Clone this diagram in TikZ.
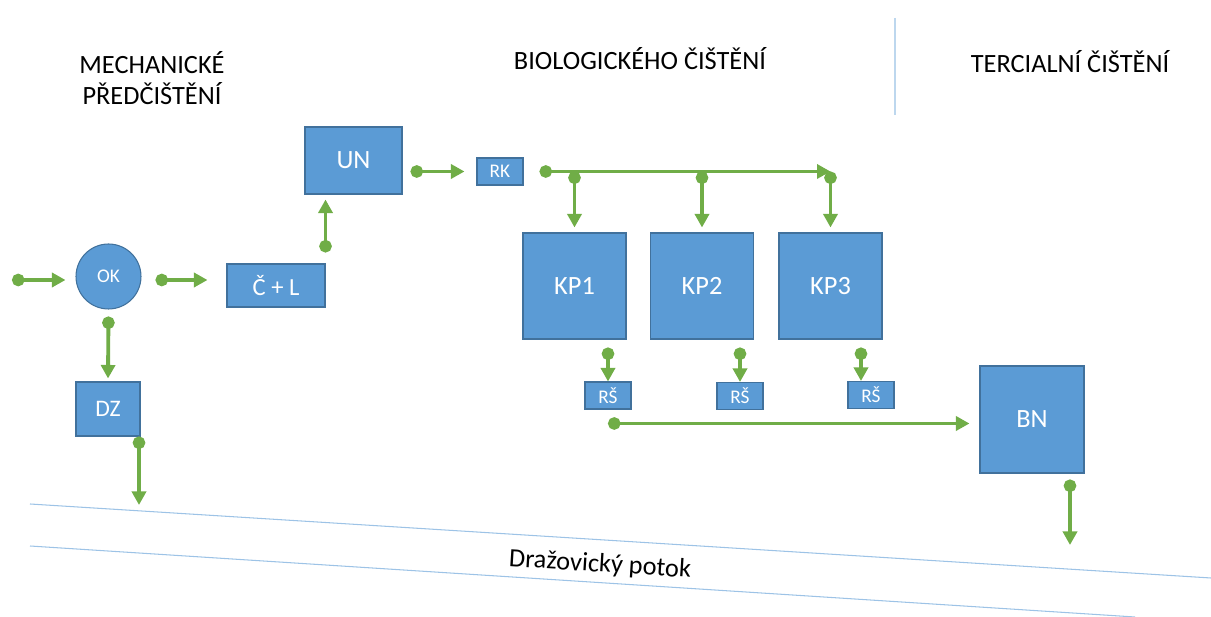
\documentclass[tikz,border=0pt]{standalone}
\usepackage{fontspec}
\setmainfont{Carlito}
\usetikzlibrary{arrows.meta,calc}

\definecolor{boxblue}{HTML}{5B9BD5}
\definecolor{boxedge}{HTML}{41719C}
\definecolor{flowgreen}{HTML}{70AD47}
\definecolor{riverblue}{HTML}{9DC3E6}
\definecolor{lineblue}{HTML}{BDD7EE}

\begin{document}
\begin{tikzpicture}
[x=0.02cm, y=-0.02cm]
\tikzset{
	unit/.style = {rectangle, draw=boxedge, fill=boxblue, text=white, inner sep=0, line width=0.6pt},
	big/.style = {unit, minimum width=2.06cm, minimum height=2.12cm, font=\fontsize{15}{18}\selectfont},
	small/.style = {unit, minimum width=0.92cm, minimum height=0.54cm, font=\fontsize{11}{13}\selectfont},
	flow/.style = {draw=flowgreen, line width=2.2pt, {Circle[length=0.25cm]}-{Triangle[length=0.27cm, width=0.28cm]}},
	phase/.style = {align=center, font=\fontsize{15}{18}\selectfont},
	river/.style = {draw=riverblue, line width=0.6pt}
}
\useasboundingbox (0,0) rectangle (1211,617);

% headings
\node (mech) [phase] at (152,78) {MECHANICKÉ\\PŘEDČIŠTĚNÍ};
\node (bio) [phase] at (640,59) {BIOLOGICKÉHO ČIŠTĚNÍ};
\node (terc) [phase] at (1070,62) {TERCIALNÍ ČIŠTĚNÍ};
\draw [draw=lineblue, line width=1pt] (895,18) -- (895,115);

% units
\node (ok) [unit, circle, minimum size=1.3cm, font=\fontsize{11}{13}\selectfont] at (108.5,276.5) {OK};
\node (cl) [unit, minimum width=1.96cm, minimum height=0.86cm, font=\fontsize{14}{17}\selectfont] at (276,285.5) {Č + L};
\node (un) [unit, minimum width=1.94cm, minimum height=1.34cm, font=\fontsize{15}{18}\selectfont] at (353.5,160.5) {UN};
\node (rk) [small] at (500,171.5) {RK};
\node (kp1) [big] at (574.5,286) {KP1};
\node (kp2) [big] at (702,286) {KP2};
\node (kp3) [big] at (830.5,286) {KP3};
\node (rs1) [small] at (608,395.5) {RŠ};
\node (rs2) [small] at (740,396) {RŠ};
\node (rs3) [small] at (871,395) {RŠ};
\node (bn) [big, minimum width=2.08cm, minimum height=2.14cm] at (1032,419.5) {BN};
\node (dz) [unit, minimum width=1.28cm, minimum height=1.08cm, font=\fontsize{13.5}{16}\selectfont] at (108,409) {DZ};

% river
\draw [river] (30,504) -- (1211,578);
\draw [river] (30,546) -- (1135,617);
\node (potok) [rotate=-3.6, font=\fontsize{15}{18}\selectfont] at (600,565) {Dražovický potok};

\coordinate (in) at (12,280);
\coordinate (out1) at (139,505);
\coordinate (out2) at (1070,545);

% flows
\draw [flow, shorten >=0.2cm] (in) -- (in -| ok.west);
\draw [flow, shorten <=0.28cm, shorten >=0.38cm] (ok.east |- in) -- (cl.west |- in);
\draw [flow, shorten <=0.14cm, shorten >=0.06cm] (ok.south) -- (dz.north);
\draw [flow] (out1 |- dz.south) -- (out1);
\draw [flow, shorten <=0.22cm, shorten >=0.1cm] (cl.north east) -- (cl.north east |- un.south);
\draw [flow, shorten <=0.16cm, shorten >=0.24cm] (un.east |- rk.west) -- (rk.west);
\draw [flow, shorten <=0.32cm] (rk.east) -- (rk.east -| kp3.north);
\foreach \k in {1,2,3}
	\draw [flow, shorten >=0.1cm] (kp\k.north |- rk.east) -- (kp\k.north);
\draw [flow, shorten <=0.16cm] (rs1.north |- kp1.south) -- (rs1.north);
\draw [flow, shorten <=0.16cm] (rs2.north |- kp2.south) -- (rs2.north);
\draw [flow, shorten <=0.16cm] ($(rs3.north |- kp3.south)+(-10,0)$) -- ($(rs3.north)+(-10,0)$);
\draw [flow, shorten >=0.2cm] ($(rs1.south |- bn.west)+(0,4)$) -- ($(bn.west)+(0,4)$);
\draw [flow, shorten <=0.12cm] (out2 |- bn.south) -- (out2);
\end{tikzpicture}
\end{document}
